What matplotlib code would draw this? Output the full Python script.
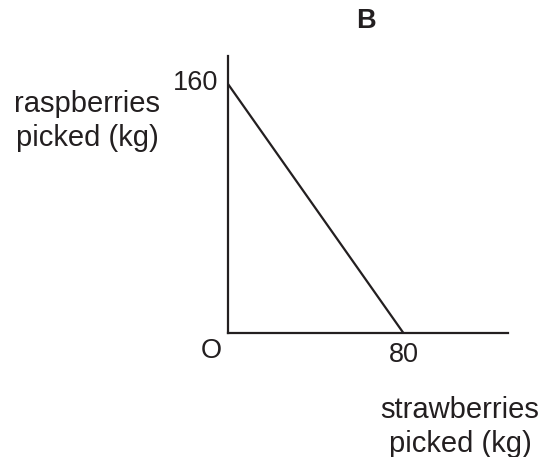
import matplotlib.pyplot as plt

plt.rcParams['font.family'] = ['Liberation Sans', 'DejaVu Sans']

# intercepts of the frontier
strawberries = [0, 80]
raspberries = [160, 0]
x_max = 127.7
y_max = 178

W, H = 547, 457
fig = plt.figure(figsize=(W / 100, H / 100), dpi=100)

def fx(px):
    return px / W

def fy(py):
    return 1 - py / H

ax = fig.add_axes([fx(228), fy(333), fx(508) - fx(228), fy(56) - fy(333)])
ax.plot(strawberries, raspberries, color='#231f20', lw=1.6, solid_capstyle='butt')
ax.set_xlim(0, x_max)
ax.set_ylim(0, y_max)
for s in ['top', 'right']:
    ax.spines[s].set_visible(False)
for s in ['left', 'bottom']:
    ax.spines[s].set_linewidth(1.6)
    ax.spines[s].set_color('#231f20')
ax.set_xticks([])
ax.set_yticks([])
ax.patch.set_alpha(0)

c = '#231f20'
fs = 19.5
fig.text(fx(218), fy(83), '160', ha='right', va='center', fontsize=fs, color=c)
fig.text(fx(404), fy(355), '80', ha='center', va='center', fontsize=fs, color=c)
fig.text(fx(211), fy(351), 'O', ha='center', va='center', fontsize=fs, color=c)

fig.text(fx(366), fy(21), 'B', ha='center', va='center', fontsize=19.5, fontweight='bold', color=c)
fig.text(fx(87), fy(121), 'raspberries\npicked (kg)', ha='center', va='center',
         fontsize=21, color=c, linespacing=1.3)
fig.text(fx(460), fy(427), 'strawberries\npicked (kg)', ha='center', va='center',
         fontsize=21, color=c, linespacing=1.3)

fig.savefig('out.png', dpi=100)
